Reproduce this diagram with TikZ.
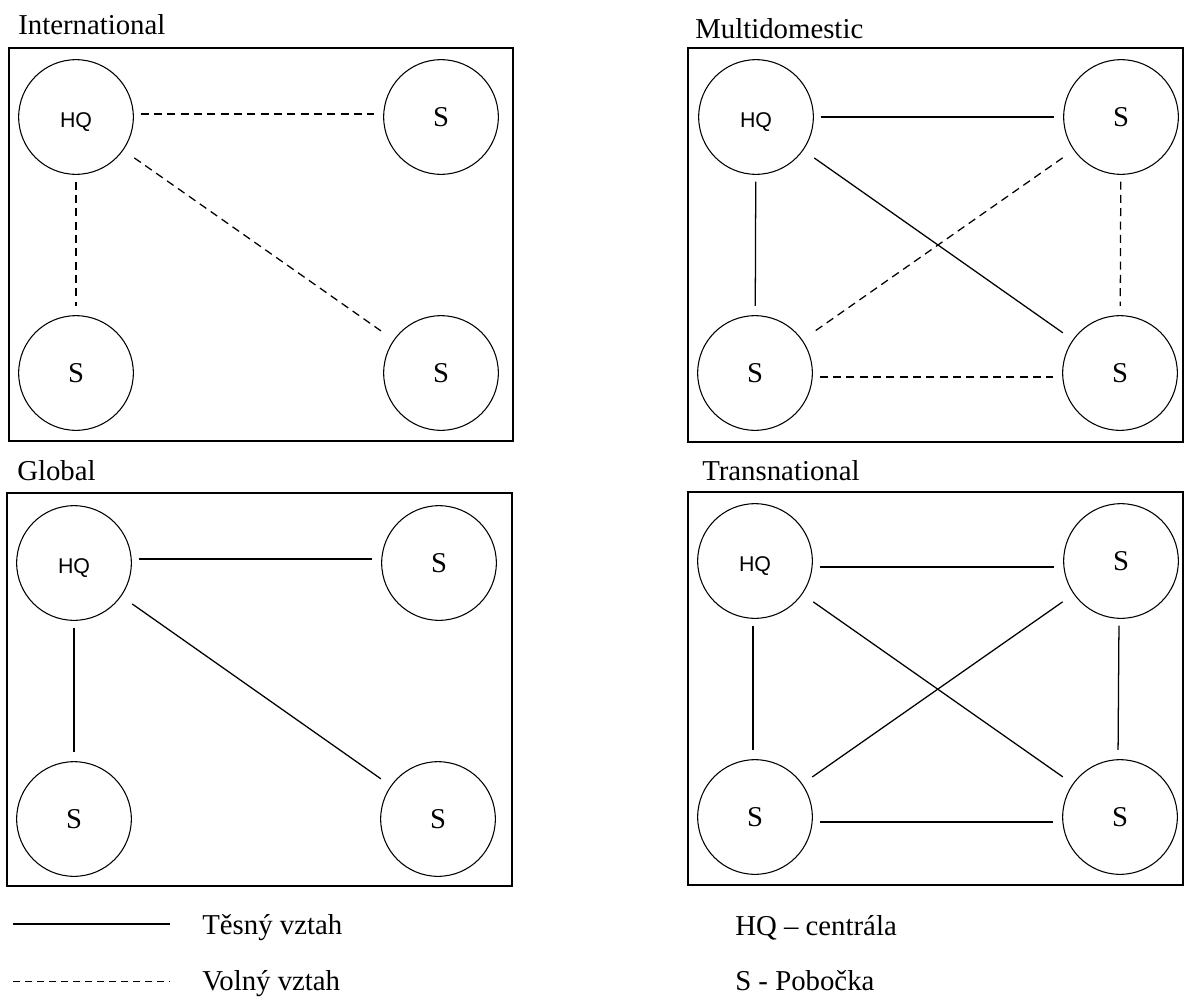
\documentclass[tikz,border=0pt]{standalone}
\usepackage{fontspec}
\setmainfont{Liberation Serif}
\newfontfamily\hqfont{Liberation Sans}
\begin{document}
\begin{tikzpicture}[x=0.75pt,y=-0.75pt,
  unitnode/.style={circle,draw,line width=0.8pt,minimum size=86pt,inner sep=0pt},
  hqnode/.style={unitnode,font=\hqfont\fontsize{16}{18}\selectfont,text height=16pt,text depth=0pt},
  snode/.style={unitnode,font=\fontsize{21.5}{24}\selectfont},
  panel/.style={draw,line width=1.1pt},
  title/.style={anchor=base west,inner sep=0pt,font=\fontsize{21.6}{26}\selectfont},
  tight/.style={line width=0.95pt,shorten <=5pt,shorten >=7pt},
  loose/.style={tight,dash pattern=on 6pt off 4pt},
  diag/.style={shorten <=10pt,shorten >=9pt},
]
\useasboundingbox (0,0) rectangle (1184,996);

% ---------- International ----------
\node[title] (t1) at (18,34) {International};
\draw[panel] (9,48) rectangle (513,441);
\node[hqnode] (a1) at (76,117) {HQ};
\node[snode] (b1) at (441,117) {S};
\node[snode] (c1) at (76,373) {S};
\node[snode] (d1) at (441,373) {S};
\draw[loose] ([yshift=2.25pt]a1.east) -- ([yshift=2.25pt]b1.west);
\draw[loose] (a1) -- (c1);
\draw[loose,diag] (a1) -- (d1);

% ---------- Multidomestic ----------
\node[title] (t2) at (695,38) {Multidomestic};
\draw[panel] (688,48) rectangle (1183,442);
\node[hqnode] (a2) at (756,117) {HQ};
\node[snode] (b2) at (1121,117) {S};
\node[snode] (c2) at (755,373) {S};
\node[snode] (d2) at (1120,373) {S};
\draw[tight] (a2) -- (b2);
\draw[tight] (a2) -- (c2);
\draw[tight,diag] (a2) -- (d2);
\draw[loose,diag] (b2) -- (c2);
\draw[loose] (b2) -- (d2);
\draw[loose] ([yshift=-3pt]c2.east) -- ([yshift=-3pt]d2.west);

% ---------- Global ----------
\node[title] (t3) at (17,480) {Global};
\draw[panel] (7,493) rectangle (512,886);
\node[hqnode] (a3) at (74,563) {HQ};
\node[snode] (b3) at (439,563) {S};
\node[snode] (c3) at (74,819) {S};
\node[snode] (d3) at (438,819) {S};
\draw[tight] ([yshift=3pt]a3.east) -- ([yshift=3pt]b3.west);
\draw[tight] (a3) -- (c3);
\draw[tight,diag] (a3) -- (d3);

% ---------- Transnational ----------
\node[title] (t4) at (702,480) {Transnational};
\draw[panel] (688,492) rectangle (1183,885);
\node[hqnode] (a4) at (755,561) {HQ};
\node[snode] (b4) at (1121,561) {S};
\node[snode] (c4) at (755,817) {S};
\node[snode] (d4) at (1120,817) {S};
\draw[tight] ([yshift=-4.5pt]a4.east) -- ([yshift=-4.5pt]b4.west);
\draw[tight] ([xshift=-1.5pt]a4.south) -- ([xshift=-1.5pt]c4.north);
\draw[tight,diag] (a4) -- (d4);
\draw[tight,diag] (b4) -- (c4);
\draw[tight] ([xshift=-1.5pt]b4.south) -- ([xshift=-1.5pt]d4.north);
\draw[tight] ([yshift=-3.75pt]c4.east) -- ([yshift=-3.75pt]d4.west);

% ---------- Legend ----------
\coordinate (l1a) at (13,924);
\coordinate (l1b) at (170,924);
\coordinate (l2a) at (13,981);
\coordinate (l2b) at (170,981);
\draw[line width=0.9pt] (l1a) -- (l1b);
\draw[line width=0.7pt,dash pattern=on 5.5pt off 3.5pt] (l2a) -- (l2b);
\node[title] (k1) at (202,934) {Těsný vztah};
\node[title] (k2) at (202,990) {Volný vztah};
\node[title] (k3) at (735,935) {HQ – centrála};
\node[title] (k4) at (735,990) {S - Pobočka};
\end{tikzpicture}
\end{document}
